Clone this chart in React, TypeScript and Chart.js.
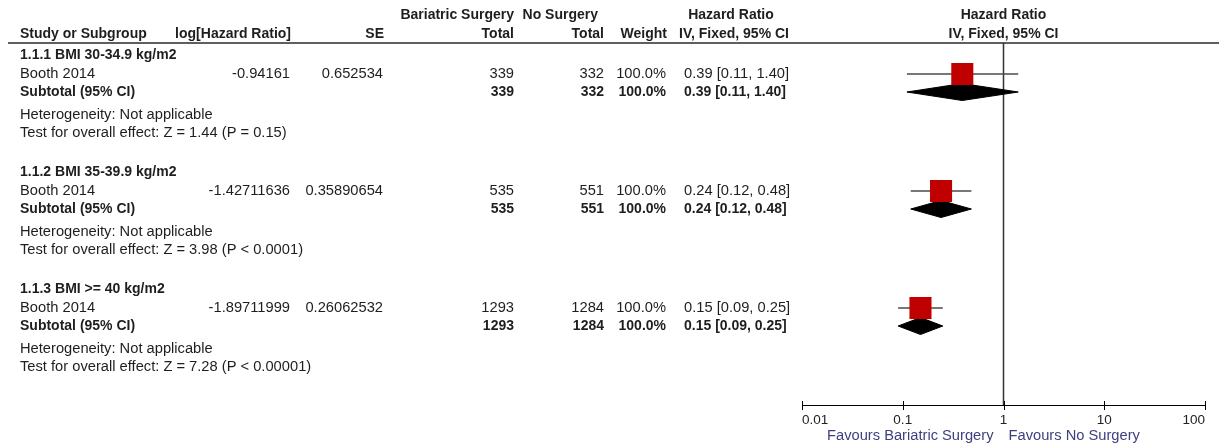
import { useEffect, useRef } from 'react';
import { Chart, registerables } from 'chart.js';

Chart.register(...registerables);

// ---- data ----
const subgroupNames = ['1.1.1 BMI 30-34.9 kg/m2', '1.1.2 BMI 35-39.9 kg/m2', '1.1.3 BMI >= 40 kg/m2'];
const studyNames = ['Booth 2014', 'Booth 2014', 'Booth 2014'];
const logHazardRatios = ['-0.94161', '-1.42711636', '-1.89711999'];
const standardErrors = ['0.652534', '0.35890654', '0.26062532'];
const surgeryTotals = [339, 535, 1293];
const noSurgeryTotals = [332, 551, 1284];
const weights = [100.0, 100.0, 100.0];
const hazardRatios = [0.39, 0.24, 0.15];
const ciLower = [0.11, 0.12, 0.09];
const ciUpper = [1.4, 0.48, 0.25];
const zValues = ['1.44', '3.98', '7.28'];
const pValues = ['P = 0.15', 'P < 0.0001', 'P < 0.00001'];
const axisTicks = [0.01, 0.1, 1, 10, 100];
const axisTickLabels = ['0.01', '0.1', '1', '10', '100'];

// ---- layout (row slots in layout units, top = 0) ----
const AXIS_BOTTOM = 405;
const RULE_Y = 43;
const HEADER1_Y = 15;
const HEADER2_Y = 34;
const GROUP_TOP = 55;
const GROUP_STEP = 117;
const OFF_STUDY = 19;
const OFF_SUBTOTAL = 37;
const OFF_HET = 60;
const OFF_TEST = 78;
const DIAMOND_HALF = 8.5;

const groupBase = (g: number) => GROUP_TOP + g * GROUP_STEP;

const REG = '14.7px "Liberation Sans", Arial, sans-serif';
const BOLD = 'bold 14px "Liberation Sans", Arial, sans-serif';
const TEXT = '#1e1e1e';

export default function App() {
  const ref = useRef<HTMLCanvasElement | null>(null);

  useEffect(() => {
    document.body.style.margin = '0';
    const canvas = ref.current;
    if (!canvas) return;

    const tablePlugin = {
      id: 'forestTable',
      afterDraw(chart: any) {
        const ctx = chart.ctx as CanvasRenderingContext2D;
        const xs = chart.scales.x;
        const ys = chart.scales.y;
        const Y = (v: number) => ys.getPixelForValue(v);
        const x1 = xs.getPixelForValue(1);
        const txt = (s: string, x: number, y: number, align: CanvasTextAlign, font: string, color = TEXT) => {
          ctx.font = font;
          ctx.fillStyle = color;
          ctx.textAlign = align;
          ctx.textBaseline = 'middle';
          ctx.fillText(s, x, Y(y));
        };
        ctx.save();
        // headers
        txt('Bariatric Surgery', 514, HEADER1_Y, 'right', BOLD);
        txt('No Surgery', 598, HEADER1_Y, 'right', BOLD);
        txt('Hazard Ratio', 731, HEADER1_Y, 'center', BOLD);
        txt('Hazard Ratio', x1, HEADER1_Y, 'center', BOLD);
        txt('Study or Subgroup', 20, HEADER2_Y, 'left', BOLD);
        txt('log[Hazard Ratio]', 291, HEADER2_Y, 'right', BOLD);
        txt('SE', 384, HEADER2_Y, 'right', BOLD);
        txt('Total', 514, HEADER2_Y, 'right', BOLD);
        txt('Total', 604, HEADER2_Y, 'right', BOLD);
        txt('Weight', 667, HEADER2_Y, 'right', BOLD);
        txt('IV, Fixed, 95% CI', 734, HEADER2_Y, 'center', BOLD);
        txt('IV, Fixed, 95% CI', x1, HEADER2_Y, 'center', BOLD);
        // rule
        ctx.strokeStyle = '#2a2a2a';
        ctx.lineWidth = 1.5;
        ctx.beginPath();
        ctx.moveTo(8, Y(RULE_Y));
        ctx.lineTo(1219, Y(RULE_Y));
        ctx.stroke();

        subgroupNames.forEach((name, g) => {
          const b = groupBase(g);
          const ci = `${hazardRatios[g].toFixed(2)} [${ciLower[g].toFixed(2)}, ${ciUpper[g].toFixed(2)}]`;
          const w = `${weights[g].toFixed(1)}%`;
          txt(name, 20, b, 'left', BOLD);
          const ys1 = b + OFF_STUDY;
          txt(studyNames[g], 20, ys1, 'left', REG);
          txt(logHazardRatios[g], 290, ys1, 'right', REG);
          txt(standardErrors[g], 383, ys1, 'right', REG);
          txt(String(surgeryTotals[g]), 514, ys1, 'right', REG);
          txt(String(noSurgeryTotals[g]), 604, ys1, 'right', REG);
          txt(w, 666, ys1, 'right', REG);
          txt(ci, 684, ys1, 'left', REG);
          const ys2 = b + OFF_SUBTOTAL;
          txt('Subtotal (95% CI)', 20, ys2, 'left', BOLD);
          txt(String(surgeryTotals[g]), 514, ys2, 'right', BOLD);
          txt(String(noSurgeryTotals[g]), 604, ys2, 'right', BOLD);
          txt(w, 666, ys2, 'right', BOLD);
          txt(ci, 684, ys2, 'left', BOLD);
          txt('Heterogeneity: Not applicable', 20, b + OFF_HET, 'left', REG);
          txt(`Test for overall effect: Z = ${zValues[g]} (${pValues[g]})`, 20, b + OFF_TEST, 'left', REG);
        });

        // axis tick marks crossing the axis line
        const ay = chart.chartArea.bottom;
        ctx.strokeStyle = '#000';
        ctx.lineWidth = 1;
        axisTicks.forEach((v) => {
          const px = Math.round(xs.getPixelForValue(v)) + 0.5;
          ctx.beginPath();
          ctx.moveTo(px, ay - 4);
          ctx.lineTo(px, ay + 5);
          ctx.stroke();
        });
        // favours labels
        const fy = ay + 31;
        ctx.font = REG;
        ctx.fillStyle = '#3f3f7f';
        ctx.textBaseline = 'middle';
        ctx.textAlign = 'right';
        ctx.fillText('Favours Bariatric Surgery', x1 - 10, fy);
        ctx.textAlign = 'left';
        ctx.fillText('Favours No Surgery', x1 + 5, fy);
        ctx.restore();
      },
    };

    const squares = {
      type: 'scatter',
      data: hazardRatios.map((hr, g) => ({ x: hr, y: groupBase(g) + OFF_STUDY })),
      pointStyle: 'rect',
      pointRadius: 15.6,
      pointBackgroundColor: '#c00000',
      pointBorderWidth: 0,
      pointBorderColor: '#c00000',
      showLine: false,
    };
    const diamonds = hazardRatios.map((hr, g) => {
      const y = groupBase(g) + OFF_SUBTOTAL;
      return {
        type: 'line',
        data: [
          { x: ciLower[g], y },
          { x: hr, y: y - DIAMOND_HALF },
          { x: ciUpper[g], y },
          { x: hr, y: y + DIAMOND_HALF },
          { x: ciLower[g], y },
        ],
        borderColor: '#000',
        backgroundColor: '#000',
        borderWidth: 1,
        fill: 'shape',
        pointRadius: 0,
        tension: 0,
      };
    });
    const ciLines = hazardRatios.map((_, g) => {
      const y = groupBase(g) + OFF_STUDY;
      return {
        type: 'line',
        data: [
          { x: ciLower[g], y },
          { x: ciUpper[g], y },
        ],
        borderColor: '#4a4a4a',
        borderWidth: 1.5,
        pointRadius: 0,
        fill: false,
      };
    });
    const nullLine = {
      type: 'line',
      data: [
        { x: 1, y: RULE_Y },
        { x: 1, y: AXIS_BOTTOM },
      ],
      borderColor: '#333',
      borderWidth: 1.5,
      pointRadius: 0,
      fill: false,
    };

    const chart = new Chart(canvas, {
      type: 'line',
      data: { datasets: [squares, ...diamonds, ...ciLines, nullLine] as any },
      plugins: [tablePlugin],
      options: {
        animation: false,
        responsive: false,
        devicePixelRatio: 1,
        layout: { autoPadding: false, padding: { left: 802, right: 19, top: 0, bottom: 0 } },
        plugins: { legend: { display: false }, tooltip: { enabled: false } },
        events: [],
        scales: {
          x: {
            type: 'logarithmic',
            min: 0.01,
            max: 100,
            afterBuildTicks: (s: any) => {
              s.ticks = axisTicks.map((v) => ({ value: v }));
            },
            afterFit: (s: any) => {
              s.height = 446 - AXIS_BOTTOM;
            },
            grid: { display: false, drawTicks: false },
            border: { display: true, color: '#000', width: 1 },
            ticks: {
              align: 'inner',
              padding: 7,
              autoSkip: false,
              maxRotation: 0,
              color: '#222',
              font: { family: '"Liberation Sans", Arial, sans-serif', size: 13.5 },
              callback: (_v: any, i: number) => axisTickLabels[i],
            },
          },
          y: {
            type: 'linear',
            display: false,
            reverse: true,
            min: 0,
            max: AXIS_BOTTOM,
          },
        },
      } as any,
    });
    return () => chart.destroy();
  }, []);

  return (
    <div style={{ width: 1224, height: 446, position: 'relative', background: '#fff' }}>
      <canvas ref={ref} width={1224} height={446} style={{ display: 'block', width: 1224, height: 446 }} />
    </div>
  );
}
